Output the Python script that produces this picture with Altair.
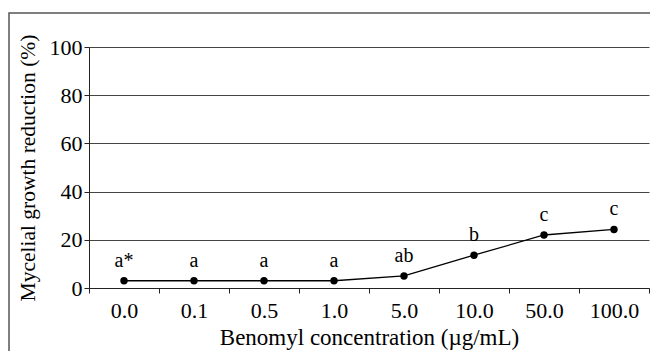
import altair as alt
import pandas as pd

concentrations = ["0.0", "0.1", "0.5", "1.0", "5.0", "10.0", "50.0", "100.0"]
reduction = [3.0, 3.0, 3.0, 3.0, 5.0, 13.6, 22.0, 24.3]
letters = ["a*", "a", "a", "a", "ab", "b", "c", "c"]

df = pd.DataFrame({"conc": concentrations, "red": reduction, "lab": letters})

FONT = "Liberation Serif"

xenc = alt.X("conc:O", sort=concentrations,
             scale=alt.Scale(type="band", paddingInner=0, paddingOuter=0),
             axis=alt.Axis(title="Benomyl concentration (µg/mL)", labelAngle=0,
                           tickBand="extent", grid=False, domainColor="#222",
                           tickColor="#222", tickSize=5, labelPadding=7,
                           labelFontSize=22, titleFontSize=23, titlePadding=5))
yenc = alt.Y("red:Q", scale=alt.Scale(domain=[0, 100]),
             axis=alt.Axis(title="Mycelial growth reduction (%)", values=[0, 20, 40, 60, 80, 100],
                           grid=True, gridColor="#444", gridWidth=1.2,
                           domainColor="#222", tickColor="#222", tickSize=5,
                           labelPadding=2, labelFontSize=22, titleFontSize=21.5,
                           titlePadding=10))

base = alt.Chart(df)

border = base.mark_rect(fill=None, stroke="#555", strokeWidth=1.5).encode(
    x=alt.value(-80), x2=alt.value(580), y=alt.value(-34), y2=alt.value(330)
).transform_filter("datum.conc == '0.0'")

line = base.mark_line(color="black", strokeWidth=1.3).encode(x=xenc, y=yenc)
pts = base.mark_circle(color="black", size=55, opacity=1).encode(x=xenc, y=yenc)
txt = base.mark_text(font=FONT, fontSize=20, dy=-20, color="black").encode(
    x=xenc, y=yenc, text="lab:N")

chart = alt.layer(border, line, pts, txt).properties(
    width=560, height=241,
    autosize=alt.AutoSizeParams(type="none"),
    padding={"left": 81, "top": 39, "right": 1, "bottom": 63},
).configure_view(stroke=None).configure_axis(
    labelFont=FONT, titleFont=FONT,
    labelColor="black", titleColor="black", titleFontWeight="normal"
)

chart.save("out.html", embed_options={"renderer": "svg", "actions": False})
